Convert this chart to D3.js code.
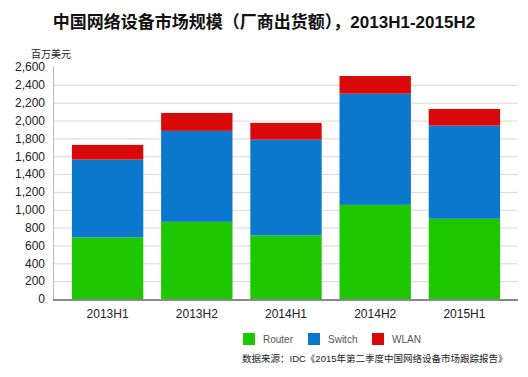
<!DOCTYPE html>
<html>
<head>
<meta charset="utf-8">
<script src="https://cdn.jsdelivr.net/npm/d3@7/dist/d3.min.js"></script>
<style>
  body { margin: 0; background: #fff; }
  text { font-family: Arial, "Liberation Sans", "Noto Sans CJK SC", sans-serif; }
</style>
</head>
<body>
<div id="chart"></div>
<script>
// Chart data
const categories = ['2013H1', '2013H2', '2014H1', '2014H2', '2015H1'];
const seriesNames = ['Router', 'Switch', 'WLAN'];
const router = [690, 865, 712, 1055, 899];
const switchVals = [872, 1019, 1074, 1246, 1044];
const wlan = [165, 201, 187, 198, 187];
const yTicks = [0, 200, 400, 600, 800, 1000, 1200, 1400, 1600, 1800, 2000, 2200, 2400, 2600];
const colors = ['#1ec800', '#0b78ce', '#d90909'];

const width = 528, height = 377;
const svg = d3.select('#chart').append('svg')
    .attr('width', width)
    .attr('height', height);

// Title
svg.append('text')
    .attr('x', 264).attr('y', 28)
    .attr('text-anchor', 'middle')
    .style('font-size', '17px')
    .style('font-weight', 'bold')
    .attr('fill', '#111')
    .text('中国网络设备市场规模（厂商出货额），2013H1-2015H2');

// Scales
const x = d3.scaleBand()
    .domain(categories)
    .range([63, 509])
    .paddingInner(0.2)
    .paddingOuter(0.1);

const y = d3.scaleLinear()
    .domain([0, 2600])
    .range([299, 67]);

// Stack data
const table = categories.map((c, i) => ({
    category: c, Router: router[i], Switch: switchVals[i], WLAN: wlan[i]
}));
const stacked = d3.stack().keys(seriesNames)(table);

// Grid
svg.append('g')
    .attr('transform', 'translate(53,0)')
    .call(d3.axisLeft(y).tickValues(yTicks.slice(1, -1)).tickSize(-465).tickFormat(''))
    .call(g => g.select('.domain').remove())
    .call(g => g.selectAll('line').attr('stroke', '#d8d8d8'));

// Y axis line + labels
svg.append('line')
    .attr('x1', 53.5).attr('x2', 53.5)
    .attr('y1', y(2600)).attr('y2', y(0))
    .attr('stroke', '#bbb');

svg.append('g')
    .attr('transform', 'translate(53,0)')
    .call(d3.axisLeft(y).tickValues(yTicks).tickSize(0).tickPadding(8).tickFormat(d3.format(',')))
    .call(g => g.select('.domain').remove())
    .call(g => g.selectAll('text').style('font-size', '12px').attr('fill', '#222'));

svg.append('text')
    .attr('x', 31).attr('y', 58)
    .style('font-size', '10px')
    .attr('fill', '#222')
    .text('百万美元');

// Bars
svg.append('g')
    .selectAll('g')
    .data(stacked)
    .enter()
    .append('g')
    .attr('fill', (d, i) => colors[i])
    .selectAll('rect')
    .data(d => d)
    .enter()
    .append('rect')
    .attr('x', d => x(d.data.category))
    .attr('width', x.bandwidth())
    .attr('y', d => y(d[1]))
    .attr('height', d => y(d[0]) - y(d[1]));

// X axis
svg.append('line')
    .attr('x1', 53).attr('x2', 518)
    .attr('y1', 300).attr('y2', 300)
    .attr('stroke', '#888')
    .attr('stroke-width', 2);

svg.append('g')
    .attr('transform', 'translate(0,300)')
    .call(d3.axisBottom(x).tickSize(0).tickPadding(9))
    .call(g => g.select('.domain').remove())
    .call(g => g.selectAll('text').style('font-size', '12px').attr('fill', '#222'));

// Legend
const legendX = [243, 308, 372];
const legend = svg.append('g')
    .selectAll('g')
    .data(seriesNames)
    .enter()
    .append('g')
    .attr('transform', (d, i) => `translate(${legendX[i]},333)`);

legend.append('rect')
    .attr('width', 12).attr('height', 12)
    .attr('fill', (d, i) => colors[i]);

legend.append('text')
    .attr('x', 20).attr('y', 10)
    .style('font-size', '10px')
    .attr('fill', '#555')
    .text(d => d);

// Source
svg.append('text')
    .attr('x', 242).attr('y', 362)
    .style('font-size', '9.5px')
    .attr('fill', '#222')
    .text('数据来源：IDC《2015年第二季度中国网络设备市场跟踪报告》');
</script>
</body>
</html>
